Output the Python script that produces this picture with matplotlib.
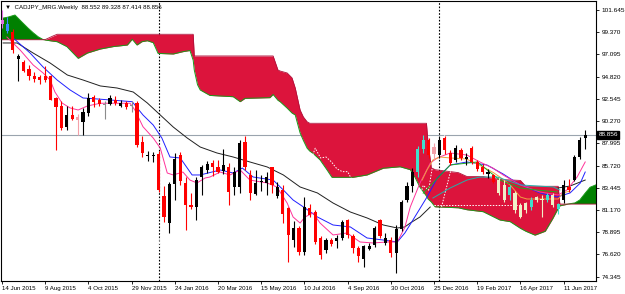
import numpy as np
import pandas as pd
import matplotlib
matplotlib.use("Agg")
import matplotlib.pyplot as plt
import matplotlib.transforms as mtrans

plt.rcParams["font.family"] = ["Liberation Sans", "DejaVu Sans"]

# ---- weekly candles, 14 Jun 2015 .. 9 Jul 2017 ----
opens = [100.6, 100.2, 99.4, 96.6, 96.35, 95.57, 94.89, 94.75, 94.89, 94.89,
         92.6, 91.82, 89.64, 90.9, 90.7, 90.22, 91.07, 92.7, 92.45, 92.0,
         92.0, 92.43, 91.82, 92.1, 91.8, 92.1, 88.17, 86.7, 86.7, 86.9,
         82.6, 79.8, 83.84, 86.8, 83.97, 81.7, 81.5, 84.52, 85.27, 86.0,
         85.54, 85.2, 85.6, 83.56, 83.5, 88.17, 84.76, 82.8, 84.0, 83.9,
         85.54, 82.6, 83.2, 81.35, 78.1, 79.3, 76.9, 81.35, 81.0, 78.3,
         77.1, 78.1, 78.0, 78.3, 80.15, 78.5, 77.3, 76.2, 77.2, 77.6,
         80.15, 77.8, 78.1, 76.8, 79.2, 82.2, 83.6, 85.1, 87.4, 88.3,
         87.6, 86.8, 88.5, 86.97, 86.3, 87.3, 86.4, 87.5, 86.1, 85.6,
         84.9, 84.76, 84.25, 82.2, 83.5, 82.9, 81.7, 81.85, 81.5, 82.5,
         82.3, 82.2, 82.7, 81.3, 82.2, 83.56, 84.25, 86.6, 88.552]
highs = [101.6, 100.9, 99.7, 97.1, 96.5, 96.0, 95.3, 95.0, 95.9, 95.0,
         92.7, 92.3, 91.8, 91.8, 91.0, 91.6, 93.1, 92.9, 92.6, 92.3,
         92.9, 92.8, 92.43, 92.3, 92.3, 92.3, 88.75, 87.2, 87.1, 87.2,
         83.6, 84.08, 87.0, 87.1, 84.6, 82.9, 84.6, 85.78, 86.2, 86.3,
         86.3, 87.4, 85.95, 85.6, 88.3, 88.75, 85.3, 85.3, 84.8, 85.1,
         85.6, 84.0, 83.7, 81.5, 80.0, 79.5, 82.5, 81.8, 81.2, 78.5,
         78.3, 78.3, 78.6, 80.15, 80.3, 78.7, 77.5, 77.6, 77.8, 79.5,
         80.3, 78.8, 78.4, 79.6, 82.2, 84.0, 85.5, 87.7, 88.85, 88.5,
         88.0, 88.6, 88.7, 87.3, 87.8, 87.5, 87.0, 87.7, 86.3, 85.9,
         85.4, 84.9, 84.4, 84.2, 83.7, 83.1, 81.9, 82.0, 82.5, 82.6,
         82.7, 82.9, 82.9, 81.9, 84.25, 84.3, 86.8, 88.6, 89.328]
lows = [99.8, 99.3, 97.2, 94.4, 95.3, 94.5, 94.3, 94.1, 94.3, 92.4,
        87.3, 89.4, 89.4, 90.4, 88.85, 88.85, 90.8, 91.7, 91.8, 90.5,
        91.9, 91.9, 91.7, 91.5, 91.2, 87.6, 86.6, 86.2, 86.1, 83.0,
        79.98, 78.85, 82.2, 83.7, 79.1, 81.3, 80.2, 82.7, 85.0, 84.7,
        85.0, 84.9, 81.7, 82.7, 82.9, 85.3, 82.2, 82.7, 83.1, 82.7,
        82.9, 82.4, 79.8, 75.9, 77.4, 76.57, 76.6, 80.5, 77.7, 76.2,
        76.8, 77.5, 77.3, 78.1, 78.3, 76.8, 75.9, 75.37, 77.1, 77.4,
        78.3, 77.6, 76.4, 74.7, 79.0, 82.0, 83.0, 84.6, 87.0, 86.5,
        86.4, 86.5, 86.9, 85.8, 86.1, 86.3, 85.8, 85.9, 85.2, 84.9,
        84.5, 83.9, 82.7, 82.0, 82.2, 80.9, 80.4, 80.9, 81.2, 82.0,
        80.5, 82.0, 81.5, 80.8, 81.9, 83.0, 84.1, 86.4, 87.414]
closes = [100.2, 99.5, 97.6, 96.9, 95.4, 94.89, 94.55, 94.48, 94.48, 92.43,
          91.7, 89.54, 90.9, 90.49, 90.4, 91.24, 92.6, 92.26, 92.0, 91.9,
          92.6, 92.1, 92.15, 91.7, 91.9, 87.83, 86.97, 86.85, 86.8, 83.2,
          80.5, 83.84, 86.4, 84.1, 81.7, 81.5, 84.2, 85.54, 85.88, 85.54,
          85.1, 85.78, 83.05, 85.1, 88.07, 85.6, 82.9, 83.9, 84.1, 84.6,
          83.7, 83.56, 80.8, 78.6, 79.3, 76.9, 81.5, 80.66, 77.9, 76.6,
          78.1, 77.7, 78.3, 79.98, 78.6, 77.3, 76.5, 77.47, 77.47, 79.3,
          78.5, 78.3, 76.74, 79.2, 82.0, 83.6, 85.1, 87.4, 88.3, 86.8,
          86.9, 88.3, 87.3, 85.95, 87.5, 86.5, 86.6, 86.1, 85.4, 85.1,
          85.1, 84.07, 82.9, 83.7, 82.7, 81.2, 80.5, 81.2, 82.2, 82.2,
          82.2, 82.7, 81.7, 81.8, 83.7, 83.2, 86.6, 88.3, 88.856]
# colour code per candle (k bull, r bear, t/y inside cloud, p pale, g grey)
ccodes = ("mbrkrrrrrrrrkrpkkrrg" "krkrgrrkkr" "rkkrrrkkkr" "rkrkkrrkkk"
          "rkrrkrkrrr" "krkkrrrkkk" "rkrkkkkttr" "pkrrkrkrrr" "kryytyyyty"
          "ytytkrkkk")
dates = pd.date_range("2015-06-14", periods=len(closes), freq="W-SUN")

# ---- ichimoku cloud (bar position, span A, span B) ----
cloud_x = [0, 1, 2.4, 3.7, 4.8, 5.8, 6.7, 7.6, 8.0, 9.5, 10.2, 12.0, 14.1, 15.8,
           18.2, 20.6, 23.2, 24.1, 25.0, 25.9, 26.9, 28.0, 28.9, 31.7, 33.5,
           34.8, 35.4, 35.6, 36.2, 36.7, 38.5, 42.8, 44.1, 45.0, 49.6, 50.2,
           51.1, 51.5, 52.8, 53.7, 54.3, 55.2, 55.8, 56.5, 57.0, 57.6, 58.9,
           60.2, 61.1, 65.0, 67.6, 70.6, 73.7, 75.6, 76.5, 77.4, 78.6, 78.9,
           79.5, 80.2, 84.5, 86.1, 89.1, 92.2, 94.1, 96.0, 97.0, 98.7, 100.6,
           102.0, 103.0, 103.3, 105.0, 106.1, 107.0, 108.0, 108.9, 110.0]
span_a = [100.8, 100.9, 101.13, 100.4, 99.8, 99.3, 98.9, 98.62, 98.57, 98.45,
          98.4, 97.9, 96.7, 97.24, 97.65, 97.9, 98.06, 98.65, 98.06, 98.4,
          98.5, 98.3, 97.2, 97.14, 97.38, 97.5, 96.5, 95.5, 94.0, 93.46,
          92.9, 92.77, 92.26, 92.6, 92.67, 93.0, 92.4, 92.26, 91.6, 91.1,
          90.9, 89.06, 88.3, 87.5, 87.2, 86.97, 86.3, 85.27, 84.52, 84.52,
          84.76, 85.45, 85.6, 85.3, 84.5, 83.5, 82.6, 82.3, 82.0, 81.5,
          81.4, 81.2, 81.0, 80.15, 79.98, 79.3, 79.0, 78.6, 79.0, 80.3,
          81.35, 81.6, 81.8, 81.9, 82.2, 82.9, 83.5, 83.75]
span_b = [98.6, 98.6, 98.6, 98.6, 98.6, 98.6, 98.6, 98.6, 98.62, 99.0,
          99.16, 99.16, 99.16, 99.16, 99.16, 99.16, 99.16, 99.16, 99.16, 99.16,
          99.16, 99.16, 99.16, 99.16, 99.16, 99.16, 99.16, 96.94, 96.94, 96.94,
          96.94, 96.94, 96.94, 96.94, 96.94, 96.94, 95.5, 95.4, 95.2, 94.7,
          93.66, 91.41, 90.7, 90.2, 90.05, 90.05, 90.05, 90.05, 90.05, 90.05,
          90.05, 90.05, 90.05, 90.05, 90.05, 90.05, 90.05, 88.0, 85.5, 85.3,
          85.0, 84.6, 84.6, 84.3, 84.25, 84.2, 83.6, 83.6, 83.6, 83.6,
          83.6, 81.78, 81.78, 81.78, 81.78, 81.78, 81.78, 81.78]

# ---- moving averages (bar position, price) ----
pink_x = [0.9, 3.35, 5.76, 7.6, 8.9, 9.8, 11.1, 12.6, 14.1, 15.8, 18.2, 23.7,
          24.6, 26.1, 28, 29.3, 30.6, 31.7, 33.5, 34.8, 36.1, 37.6, 38.5, 40.4,
          42.2, 44.1, 45.9, 49.1, 50.9, 52.8, 53.9, 55.2, 56.1, 57.6, 58.9,
          61.3, 63.9, 66.3, 68.7, 71.3, 73.2, 74.6, 75.6, 77.4, 79.3, 80.6,
          83, 86.1, 88.5, 90.9, 92.8, 96, 99.6, 103, 104.6, 106.5, 108]
pink_y = [98.88, 97.55, 96.02, 95.2, 94.48, 93.25, 92.13, 91.62, 91.41, 91.82,
          92.1, 92.1, 91.41, 89.7, 88.54, 87.52, 84.96, 84.76, 85.06, 84.24,
          83.94, 84.45, 84.55, 85.06, 84.76, 85.27, 84.24, 83.94, 83.53, 81.89,
          80.46, 79.84, 80.46, 80.87, 79.84, 78.62, 78.82, 77.9, 77.8, 77.9,
          77.9, 79.4, 81.48, 83.94, 85.98, 86.5, 87.01, 86.8, 86.09, 85.47,
          84.76, 83.74, 83.02, 82.71, 83.22, 84.55, 86.09]
blue_x = [2.06, 5.2, 7.6, 10.2, 12.6, 15.0, 17.6, 24.1, 26.1, 28, 29.6, 31.1,
          33, 35.2, 36.7, 40.4, 42.8, 44.5, 46.5, 50.2, 52.1, 53.9, 56.1, 58.4,
          61.3, 64.5, 67.6, 70.6, 73.2, 74.6, 76.1, 78.7, 80.6, 83, 86.1, 89.8,
          92.8, 95.4, 99.6, 102.8, 105.2, 107.1, 108]
blue_y = [98.78, 97.24, 95.81, 94.48, 93.46, 92.64, 92.54, 92.26, 90.9, 89.87,
          88.54, 86.6, 86.5, 84.76, 84.76, 85.27, 84.96, 85.47, 84.55, 84.24,
          83.22, 82.2, 81.38, 80.46, 79.64, 79.44, 78.31, 78.1, 77.9, 78.82,
          80.15, 82.5, 84.45, 85.78, 86.09, 85.78, 84.86, 83.94, 82.92, 82.5,
          82.92, 83.94, 85.06]
black_x = [0.2, 2.8, 5.76, 8.9, 12.1, 15, 18.2, 21.3, 24.3, 26.9, 29.3, 31.7,
           34.3, 36.7, 39.8, 42.8, 45.9, 49.1, 52.1, 55.2, 58.4, 61.3, 64.5,
           67.6, 70.6, 73.2, 74.6, 75.6, 77.4, 79.3, 79.6, 102.8, 103, 105.2, 108]
black_y = [98.27, 98.27, 97.24, 96.22, 94.99, 94.48, 93.87, 93.66, 93.25, 92.13,
           90.9, 89.67, 88.54, 87.62, 87.01, 86.6, 86.09, 85.58, 84.76, 83.53,
           82.92, 81.89, 80.97, 80.36, 79.64, 79.33, 79.44, 79.84, 80.46, 81.48,
           np.nan, np.nan, 83.43, 83.63, 84.24]
# tenkan / kijun style lines on the right part
orange_x = [77.8, 78.7, 79.8, 81.1, 83, 86, 89, 91, 92.2, 94.1, 96, 97.2, 103, 103.9, 105.2]
orange_y = [84.24, 85.27, 86.29, 86.6, 86.5, 86.4, 85.6, 85.0, 84.55, 83.74, 82.5, 82.3, 82.3, 82.92, 83.12]
green_x = [78, 83, 88, 92.2, 96, 99.1, 102.8]
green_y = [82.9, 85.78, 86.09, 84.24, 83.43, 83.22, 83.02]
teal_x = [79.8, 83, 86.1, 88.5, 91.7, 96, 102.1, 103.3]
teal_y = [82.4, 83.43, 84.24, 84.55, 84.55, 83.74, 83.53, 83.22]
# white dotted levels only visible over the cloud
level_x = [80.0, 95.5]
level_y = [81.7, 81.7]
rise_x = [81.4, 83.5]
rise_y = [81.5, 86.1]

last_price = 88.856
ytick_vals = [101.645 - 2.275 * i for i in range(13)]
separators = [29, 81]

colmap = {"k": "#000000", "r": "#ff0000", "t": "#3fe0cc", "y": "#f0f0c8",
          "p": "#f4a0a8", "g": "#8c8c8c", "m": "#e070e0", "b": "#3a8cff"}

fig = plt.figure(figsize=(6.25, 2.94), dpi=100)
ax = fig.add_axes([1.5 / 625, 1 - 280.5 / 294, 594.5 / 625, 279.5 / 294])
ax.set_xlim(-0.1, 110.0)
ax.set_ylim(73.958, 102.566)

# cloud
cx = np.array(cloud_x); sa = np.array(span_a); sb = np.array(span_b)
ax.fill_between(cx, sa, sb, where=sb >= sa, interpolate=True, color="#dc143c", lw=0, zorder=1)
ax.fill_between(cx, sa, sb, where=sa >= sb, interpolate=True, color="#008000", lw=0, zorder=1)
ax.plot(cx, sa, color="#1a9a1a", lw=0.7, zorder=1.2)
ax.plot(cx, sb, color="#b0103a", lw=0.6, zorder=1.2)

# chikou (close shifted back 26 bars) and other white dotted lines
idx = np.arange(len(closes))
dots = dict(color="white", lw=0.7, ls=(0, (1.5, 1.5)), zorder=1.5)
ax.plot(idx - 26, closes, **dots)
ax.plot(level_x, level_y, **dots)
ax.plot(rise_x, rise_y, **dots)

# moving averages and lines
ax.plot(black_x, black_y, color="#202020", lw=0.7, zorder=2)
ax.plot(blue_x, blue_y, color="#2020ff", lw=0.7, zorder=2.1)
ax.plot(pink_x, pink_y, color="#ff3399", lw=0.7, zorder=2.2)
ax.plot(orange_x, orange_y, color="#f0a040", lw=0.7, zorder=2.2)
ax.plot(green_x, green_y, color="#22aa22", lw=0.7, zorder=2.2)
ax.plot(teal_x, teal_y, color="#20b2aa", lw=0.7, zorder=2.2)

# candles
o = np.array(opens); h = np.array(highs); l = np.array(lows); c = np.array(closes)
cols = [colmap[ch] for ch in ccodes]
ax.vlines(idx, l, h, colors=cols, lw=0.8, zorder=3)
body_lo = np.minimum(o, c)
body_h = np.maximum(np.abs(c - o), 0.08)
ax.bar(idx, body_h, bottom=body_lo, width=0.6, color=cols, lw=0, zorder=3.1)

# price line and separators
ax.axhline(last_price, color="#9aa4ae", lw=0.8, zorder=0.5)
for s in separators:
    ax.axvline(s, color="black", lw=0.8, ls=(0, (1.5, 1.5)), zorder=0.6)

# axes styling
for sp in ax.spines.values():
    sp.set_linewidth(0.8)
ax.yaxis.tick_right()
ax.set_yticks(ytick_vals)
ax.set_yticklabels([f"{v:.3f}" for v in ytick_vals])
xt = list(range(0, len(closes), 8))
ax.set_xticks(xt)
ax.set_xticklabels([f"{d.day} {d:%b %Y}" for d in dates[xt]], ha="left")
ax.tick_params(axis="both", length=2.5, width=0.6, pad=1.5)
ax.tick_params(axis="y", labelsize=4.6)
ax.tick_params(axis="x", labelsize=4.4)

# current price label
tr = mtrans.blended_transform_factory(ax.transAxes, ax.transData)
ax.text(1.004, last_price, f"{last_price:.3f}", transform=tr, fontsize=4.6, color="white",
        va="center", ha="left", bbox=dict(boxstyle="square,pad=0.25", fc="black", ec="black"),
        zorder=5)

# header
ax.text(0.006, 0.985, "\u25bc  CADJPY_MRG.Weekly  88.552 89.328 87.414 88.856",
        transform=ax.transAxes, fontsize=4.4, va="top", ha="left", zorder=5)

fig.savefig("out.png", dpi=100)
